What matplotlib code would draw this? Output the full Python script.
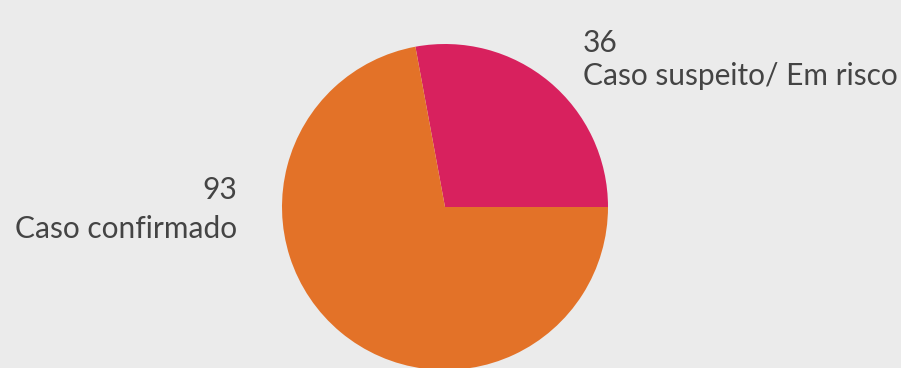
import matplotlib
matplotlib.use("Agg")
import matplotlib.pyplot as plt

values = [36, 93]
labels = ["Caso suspeito/ Em risco", "Caso confirmado"]
colors = ["#d8215e", "#e37228"]

W, H = 901, 368
fig = plt.figure(figsize=(W / 100, H / 100), dpi=100, facecolor="#ebebeb")
ax = fig.add_axes([0, 0, 1, 1])
ax.set_facecolor("#ebebeb")

cx, cy, r = 445, H - 207, 163
ax.pie(values, colors=colors, startangle=0, counterclock=True,
       center=(cx, cy), radius=r, frame=True)
ax.set_xlim(0, W)
ax.set_ylim(0, H)
ax.set_aspect("equal")
ax.axis("off")

txt = dict(family=["Lato", "DejaVu Sans"], fontsize=21.5, color="#444444", va="center")
ax.text(583, H - 43, str(values[0]), ha="left", **txt)
ax.text(583, H - 76, labels[0], ha="left", **txt)
ax.text(237, H - 190, str(values[1]), ha="right", **txt)
ax.text(237, H - 229, labels[1], ha="right", **txt)

fig.savefig("out.png", dpi=100, facecolor=fig.get_facecolor())
